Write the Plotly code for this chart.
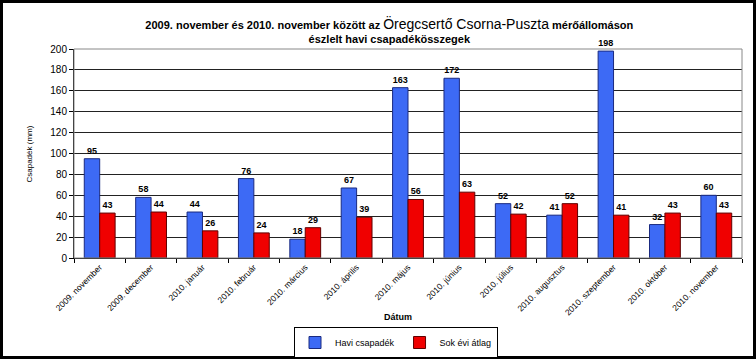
import plotly.graph_objects as go

categories = ["2009. november", "2009. december", "2010. január", "2010. február",
              "2010. március", "2010. április", "2010. május", "2010. június",
              "2010. július", "2010. augusztus", "2010. szeptember", "2010. október",
              "2010. november"]
havi = [95, 58, 44, 76, 18, 67, 163, 172, 52, 41, 198, 32, 60]
atlag = [43, 44, 26, 24, 29, 39, 56, 63, 42, 52, 41, 43, 43]
yticks = [0, 20, 40, 60, 80, 100, 120, 140, 160, 180, 200]

W, H = 756, 359
L, R, T, B = 74, 14, 49, 101
pw, ph = W - L - R, H - T - B

def px2x(x):
    return (x - L) / pw

def px2y(y):
    return (H - B - y) / ph

FONT = "Liberation Sans, Arial, sans-serif"

fig = go.Figure()
fig.add_trace(go.Bar(
    x=categories, y=havi, name="Havi csapadék",
    marker=dict(color="#3d6af5", line=dict(color="#1a2a80", width=1)),
    text=havi, texttemplate="<b>%{y}</b>", textposition="outside", cliponaxis=False,
    textfont=dict(family=FONT, size=9, color="black"),
))
fig.add_trace(go.Bar(
    x=categories, y=atlag, name="Sok évi átlag",
    marker=dict(color="#f00000", line=dict(color="#600000", width=1)),
    text=atlag, texttemplate="<b>%{y}</b>", textposition="outside", cliponaxis=False,
    textfont=dict(family=FONT, size=9, color="black"),
))

title_text = ("<b>2009. november és 2010. november között az </b>"
              "<span style='font-size:14px'>Öregcsertő Csorna-Puszta</span> "
              "<b>mérőállomáson</b><br><b>észlelt havi csapadékösszegek</b>")

fig.update_layout(
    width=W, height=H,
    margin=dict(l=L, r=R, t=T, b=B, pad=0, autoexpand=False),
    paper_bgcolor="black",
    plot_bgcolor="white",
    barmode="group",
    bargap=0.4,
    bargroupgap=0,
    font=dict(family=FONT, size=9, color="black"),
    title=dict(text=title_text, x=0.515, xanchor="center", y=1 - 29 / H, yanchor="middle",
               font=dict(family=FONT, size=11, color="black")),
    showlegend=True,
    legend=dict(orientation="h", x=px2x(294), y=px2y(327), xanchor="left", yanchor="top",
                bordercolor="black", borderwidth=1, bgcolor="white",
                font=dict(family=FONT, size=9), itemwidth=30,
                tracegroupgap=0, valign="middle"),
    shapes=[
        dict(type="rect", xref="paper", yref="paper", layer="below",
             x0=px2x(3), x1=px2x(753), y0=px2y(356), y1=px2y(3),
             fillcolor="white", line=dict(width=0)),
    ],
    annotations=[
        dict(text="<b>Dátum</b>", xref="paper", yref="paper", x=px2x(398), y=px2y(324),
             showarrow=False, font=dict(family=FONT, size=9)),
        dict(text="Csapadék (mm)", xref="paper", yref="paper", x=px2x(22), y=px2y(154),
             textangle=-90, showarrow=False, font=dict(family=FONT, size=8)),
    ],
)
fig.update_xaxes(
    type="category", tickangle=-45, tickson="boundaries", ticks="outside", ticklen=4,
    tickcolor="black", showline=True, linecolor="black", linewidth=1, mirror=False,
    tickfont=dict(family=FONT, size=8.5), showgrid=False, automargin=False,
)
fig.update_yaxes(
    range=[0, 200], tickvals=yticks, ticks="outside", ticklen=4, tickcolor="black",
    showline=True, linecolor="black", linewidth=1, gridcolor="#222222", gridwidth=1,
    tickfont=dict(family=FONT, size=10), zeroline=False, automargin=False,
)
fig.add_shape(type="rect", xref="paper", yref="paper", x0=0, x1=1, y0=0, y1=1,
              line=dict(color="#888888", width=1), layer="above")

fig.write_html("out.html", config={"displayModeBar": False},
               post_script="document.body.style.margin='0';document.body.style.overflow='hidden';")
